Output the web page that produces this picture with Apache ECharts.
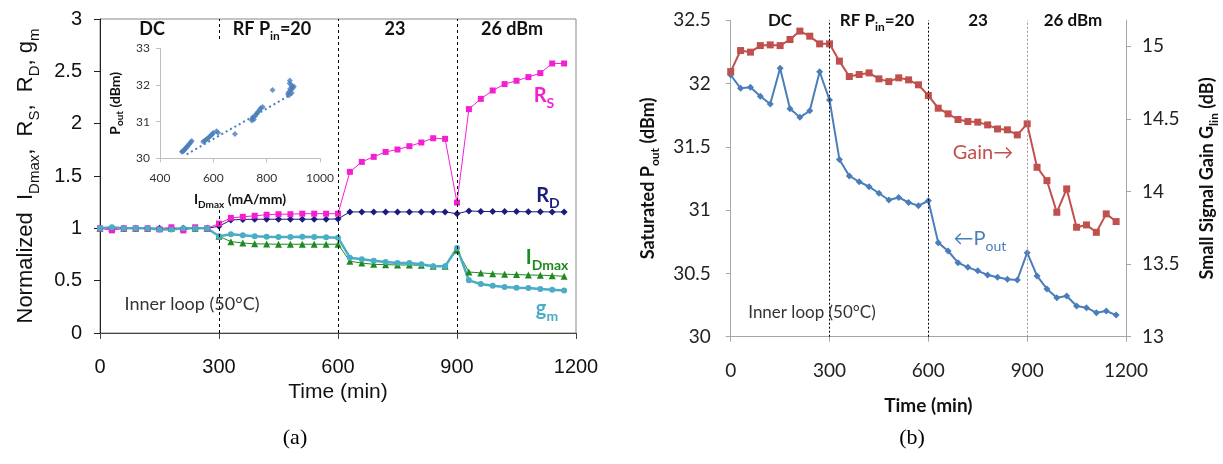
<!DOCTYPE html>
<html><head><meta charset="utf-8">
<script src="https://cdn.jsdelivr.net/npm/echarts@6/dist/echarts.min.js"></script>
<style>html,body{margin:0;padding:0;background:#fff}#c{width:1223px;height:464px}</style>
</head><body><div id="c"></div>
<script>
// ---------- DATA ----------
const timeMin = [0,30,60,90,120,150,180,210,240,270,300,330,360,390,420,450,480,510,540,570,600,630,660,690,720,750,780,810,840,870,900,930,960,990,1020,1050,1080,1110,1140,1170];
// panel (a) normalized parameters
const rsNorm = [1.00,0.98,1.00,1.00,1.00,0.99,1.01,0.98,1.01,1.00, 1.045,1.10,1.11,1.12,1.13,1.135,1.135,1.14,1.14,1.14, 1.14,1.54,1.635,1.683,1.73,1.753,1.785,1.82,1.861,1.855, 1.246,2.139,2.237,2.317,2.378,2.41,2.445,2.483,2.575,2.575];
const rdNorm = [1.00,1.00,1.00,1.00,1.00,1.00,1.00,1.00,1.00,1.00, 1.02,1.08,1.085,1.087,1.087,1.087,1.087,1.087,1.087,1.087, 1.09,1.157,1.157,1.157,1.157,1.157,1.157,1.157,1.157,1.157, 1.14,1.166,1.162,1.16,1.16,1.16,1.158,1.158,1.157,1.157];
const idmaxNorm = [1.00,1.00,1.00,1.00,1.00,1.00,1.00,1.00,1.00,1.00, 0.924,0.873,0.86,0.852,0.85,0.848,0.848,0.848,0.848,0.848, 0.848,0.685,0.669,0.656,0.653,0.65,0.65,0.647,0.637,0.637, 0.79,0.583,0.574,0.567,0.562,0.558,0.555,0.552,0.548,0.542];
const gmNorm = [1.00,1.01,1.00,1.00,1.00,0.99,0.99,1.00,1.00,1.00, 0.924,0.943,0.934,0.925,0.92,0.918,0.918,0.92,0.918,0.915, 0.911,0.72,0.704,0.69,0.679,0.669,0.669,0.656,0.637,0.637, 0.813,0.503,0.468,0.452,0.44,0.433,0.43,0.42,0.414,0.405];
// panel (b)
const poutSat = [32.067,31.962,31.97,31.90,31.838,32.12,31.80,31.733,31.785,32.093, 31.87,31.40,31.27,31.224,31.185,31.133,31.08,31.10,31.06,31.035, 31.074,30.743,30.677,30.585,30.548,30.52,30.487,30.469,30.453,30.448, 30.664,30.48,30.377,30.308,30.321,30.242,30.229,30.19,30.203,30.171];
const gainLin = [14.826,14.971,14.96,15.005,15.01,15.005,15.047,15.105,15.07,15.017, 15.017,14.898,14.792,14.806,14.817,14.776,14.757,14.783,14.769,14.735, 14.661,14.574,14.535,14.496,14.482,14.478,14.459,14.431,14.425,14.39, 14.466,14.167,14.075,13.857,14.018,13.754,13.77,13.719,13.846,13.793];
// inset: Pout vs IDmax
const insetIdmax = [482,485,488,490,493,497,500,503,507,511,515,519, 562,567,572,577,582,587,592,597,600,612,618, 681, 744,746,748,752,756,760,764,768,773,778,785, 822, 880,882,884,886,887,888,890,892,894,896,898,902];
const insetPout  = [30.18,30.19,30.20,30.22,30.25,30.28,30.30,30.33,30.37,30.40,30.44,30.47, 30.45,30.48,30.50,30.53,30.56,30.60,30.63,30.66,30.70,30.74,30.70, 30.66, 31.03,31.08,31.12,31.06,31.15,31.20,31.22,31.27,31.32,31.37,31.40, 31.86, 31.75,31.80,31.72,32.05,32.12,31.90,31.85,32.00,31.78,31.95,31.92,31.96];
const trendIdmax = [500, 895];
const trendPout = [30.11, 31.75];
// ticks / markers
const stageBounds = [300, 600, 900];
const ticksGain = [13, 13.5, 14, 14.5, 15];

// ---------- STYLE ----------
const fA = 'Liberation Sans', fB = 'Lato';
const C_RS = '#f51fd2', C_RD = '#1c1c7c', C_ID = '#1f8a1f', C_GM = '#4bacc6';
const C_P = '#4a7ebb', C_G = '#c0504d';
const plain = v => String(v);

function rich(size, color, weight, family, subRatio) {
  const sr = subRatio || 0.68;
  return {
    m: {fontSize: size, fontWeight: weight, color: color, fill: color, fontFamily: family, verticalAlign: 'bottom', padding: [0,0,Math.round(size*0.22),0]},
    s: {fontSize: Math.round(size*sr), fontWeight: weight, color: color, fill: color, fontFamily: family, verticalAlign: 'bottom'}
  };
}
function txt(x, y, text, size, color, weight, family) {
  return {
    type: 'text', x: x, y: y, z: 50, silent: true,
    style: {text: text, rich: rich(size, color, weight, family), fontSize: size, fontFamily: family, fontWeight: weight, fill: color, align: 'center', verticalAlign: 'middle'}
  };
}
const pair = (xs, ys) => xs.map((x, i) => [x, ys[i]]);

const chart = echarts.init(document.getElementById('c'), null, {renderer: 'canvas'});

const vline = (color) => ({
  silent: true, symbol: 'none', label: {show: false},
  lineStyle: {color: color || '#000', type: [3, 3], width: 1},
  data: stageBounds.map(v => ({xAxis: v}))
});

const option = {
  animation: false,
  backgroundColor: '#fff',
  grid: [
    {left: 100, top: 19, width: 476, height: 314, show: true, borderColor: '#888', borderWidth: 1, outerBoundsMode: 'none'},
    {left: 160, top: 48.3, width: 160, height: 110, z: 20, outerBoundsMode: 'none'},
    {left: 730.7, top: 20.2, width: 395.3, height: 316.5, outerBoundsMode: 'none'}
  ],
  xAxis: [
    {gridIndex: 0, type: 'value', min: 0, max: 1200, interval: 300,
     axisLine: {lineStyle: {color: '#444'}}, axisTick: {length: 6, lineStyle: {color: '#444'}},
     splitLine: {show: false},
     axisLabel: {fontSize: 20, fontFamily: fA, color: '#111', margin: 24, formatter: plain},
     name: 'Time (min)', nameLocation: 'middle', nameGap: 46,
     nameTextStyle: {fontSize: 21, fontFamily: fA, color: '#111'}},
    {gridIndex: 1, type: 'value', min: 400, max: 1000, interval: 200, z: 20,
     axisLine: {lineStyle: {color: '#bfbfbf'}}, axisTick: {length: 4, lineStyle: {color: '#bfbfbf'}},
     splitLine: {show: false},
     axisLabel: {fontSize: 12, fontFamily: fB, color: '#333', margin: 14, formatter: plain},
     name: '{m|I}{s|Dmax}{m| (mA/mm)}', nameLocation: 'middle', nameGap: 34,
     nameTextStyle: {rich: rich(14, '#111', 'bold', fB, 0.7)}},
    {gridIndex: 2, type: 'value', min: 0, max: 1200, interval: 300,
     axisLine: {lineStyle: {color: '#a6a6a6'}}, axisTick: {length: 5, lineStyle: {color: '#a6a6a6'}},
     splitLine: {show: false},
     axisLabel: {fontSize: 19, fontFamily: fB, color: '#222', margin: 25, formatter: plain},
     name: 'Time (min)', nameLocation: 'middle', nameGap: 60,
     nameTextStyle: {fontSize: 19, fontWeight: 'bold', fontFamily: fB, color: '#111'}}
  ],
  yAxis: [
    {gridIndex: 0, type: 'value', min: 0, max: 3, interval: 0.5,
     axisLine: {show: true, lineStyle: {color: '#222'}}, axisTick: {show: true, length: 6, lineStyle: {color: '#222'}},
     splitLine: {show: false},
     axisLabel: {fontSize: 20, fontFamily: fA, color: '#111', margin: 18},
     name: '{m|Normalized  I}{s|Dmax}{m|,  R}{s|S}{m|,  R}{s|D}{m|, g}{s|m}', nameLocation: 'middle', nameGap: 58, nameRotate: 90,
     nameTextStyle: {rich: rich(22, '#111', 'normal', fA)}},
    {gridIndex: 1, type: 'value', min: 30, max: 33, interval: 1, z: 20,
     axisLine: {show: true, lineStyle: {color: '#bfbfbf'}}, axisTick: {show: true, length: 4, lineStyle: {color: '#bfbfbf'}},
     splitLine: {show: false},
     axisLabel: {fontSize: 12, fontFamily: fB, color: '#333', margin: 10},
     name: '{m|P}{s|out}{m| (dBm)}', nameLocation: 'middle', nameGap: 35, nameRotate: 90,
     nameTextStyle: {rich: rich(14, '#111', 'bold', fB, 0.7)}},
    {gridIndex: 2, type: 'value', min: 30, max: 32.5, interval: 0.5,
     axisLine: {show: true, lineStyle: {color: '#a6a6a6'}}, axisTick: {show: true, length: 5, lineStyle: {color: '#a6a6a6'}},
     splitLine: {show: false},
     axisLabel: {fontSize: 19, fontFamily: fB, color: '#222', margin: 20},
     name: '{m|Saturated P}{s|out}{m| (dBm)}', nameLocation: 'middle', nameGap: 70, nameRotate: 90,
     nameTextStyle: {rich: rich(18, '#111', 'bold', fB)}},
    {gridIndex: 2, type: 'value', position: 'right', min: 13, max: 15.18, interval: 0.5,
     axisLine: {show: true, lineStyle: {color: '#a6a6a6'}},
     axisTick: {show: true, length: 5, lineStyle: {color: '#a6a6a6'}, customValues: ticksGain},
     splitLine: {show: false},
     axisLabel: {fontSize: 19, fontFamily: fB, color: '#222', margin: 16, customValues: ticksGain,
       formatter: v => (Math.abs(v*2 - Math.round(v*2)) < 1e-6 ? String(v) : '')},
     name: '{m|Small Signal Gain G}{s|lin}{m| (dB)}', nameLocation: 'middle', nameGap: 72, nameRotate: 90,
     nameTextStyle: {rich: rich(18, '#111', 'bold', fB)}}
  ],
  series: [
    {name: 'IDmax', type: 'line', xAxisIndex: 0, yAxisIndex: 0, data: pair(timeMin, idmaxNorm),
     symbol: 'triangle', symbolSize: 7, lineStyle: {color: C_ID, width: 1}, itemStyle: {color: C_ID},
     markLine: vline('#000')},
    {name: 'RD', type: 'line', xAxisIndex: 0, yAxisIndex: 0, data: pair(timeMin, rdNorm),
     symbol: 'diamond', symbolSize: 7, lineStyle: {color: C_RD, width: 1}, itemStyle: {color: C_RD}},
    {name: 'RS', type: 'line', xAxisIndex: 0, yAxisIndex: 0, data: pair(timeMin, rsNorm),
     symbol: 'rect', symbolSize: 6, lineStyle: {color: C_RS, width: 1}, itemStyle: {color: C_RS}},
    {name: 'gm', type: 'line', xAxisIndex: 0, yAxisIndex: 0, data: pair(timeMin, gmNorm),
     symbol: 'circle', symbolSize: 6, lineStyle: {color: C_GM, width: 2.5}, itemStyle: {color: C_GM}},
    {name: 'inset', type: 'scatter', xAxisIndex: 1, yAxisIndex: 1, z: 22, data: pair(insetIdmax, insetPout),
     symbol: 'diamond', symbolSize: 6, itemStyle: {color: C_P}},
    {name: 'trend', type: 'line', xAxisIndex: 1, yAxisIndex: 1, z: 21, data: pair(trendIdmax, trendPout),
     symbol: 'none', lineStyle: {color: C_P, width: 2, type: [2, 3]}},
    {name: 'Pout', type: 'line', xAxisIndex: 2, yAxisIndex: 2, data: pair(timeMin, poutSat),
     symbol: 'diamond', symbolSize: 7, lineStyle: {color: C_P, width: 2}, itemStyle: {color: C_P},
     markLine: {silent: true, symbol: 'none', label: {show: false}, lineStyle: {type: [2, 2], width: 1},
       data: [{xAxis: stageBounds[0], lineStyle: {color: '#000'}}, {xAxis: stageBounds[1], lineStyle: {color: '#000'}}, {xAxis: stageBounds[2], lineStyle: {color: '#999'}}]}},
    {name: 'Gain', type: 'line', xAxisIndex: 2, yAxisIndex: 3, data: pair(timeMin, gainLin),
     symbol: 'rect', symbolSize: 7, lineStyle: {color: C_G, width: 2}, itemStyle: {color: C_G}}
  ],
  graphic: [
    {type: 'rect', z: 10, silent: true, shape: {x: 106, y: 42, width: 230, height: 165}, style: {fill: '#fff'}},
    // panel (a)
    txt(152, 31, '{m|DC}', 18, '#111', 'bold', fB),
    txt(272, 31, '{m|RF P}{s|in}{m|=20}', 18, '#111', 'bold', fB),
    txt(395, 31, '{m|23}', 18, '#111', 'bold', fB),
    txt(512, 31, '{m|26 dBm}', 18, '#111', 'bold', fB),
    txt(544, 98, '{m|R}{s|S}', 20, C_RS, 'bold', fB),
    txt(548, 198, '{m|R}{s|D}', 20, C_RD, 'bold', fB),
    txt(547, 260, '{m|I}{s|Dmax}', 20, C_ID, 'bold', fB),
    txt(547, 311, '{m|g}{s|m}', 20, C_GM, 'bold', fB),
    txt(192, 306, '{m|Inner loop (50°C)}', 18, '#333', 'normal', fB),
    txt(295, 441, '{m|(a)}', 22, '#000', 'normal', 'Liberation Serif'),
    // panel (b)
    txt(780, 23, '{m|DC}', 17, '#111', 'bold', fB),
    txt(877, 23, '{m|RF P}{s|in}{m|=20}', 17, '#111', 'bold', fB),
    txt(978, 23, '{m|23}', 17, '#111', 'bold', fB),
    txt(1073, 23, '{m|26 dBm}', 17, '#111', 'bold', fB),
    txt(983, 155, '{m|Gain→}', 20, C_G, 'normal', fB),
    txt(980, 241, '{m|←P}{s|out}', 20, C_P, 'normal', fB),
    txt(812, 315, '{m|Inner loop (50°C)}', 17, '#333', 'normal', fB),
    txt(912, 441, '{m|(b)}', 22, '#000', 'normal', 'Liberation Serif')
  ]
};
chart.setOption(option);
</script></body></html>
